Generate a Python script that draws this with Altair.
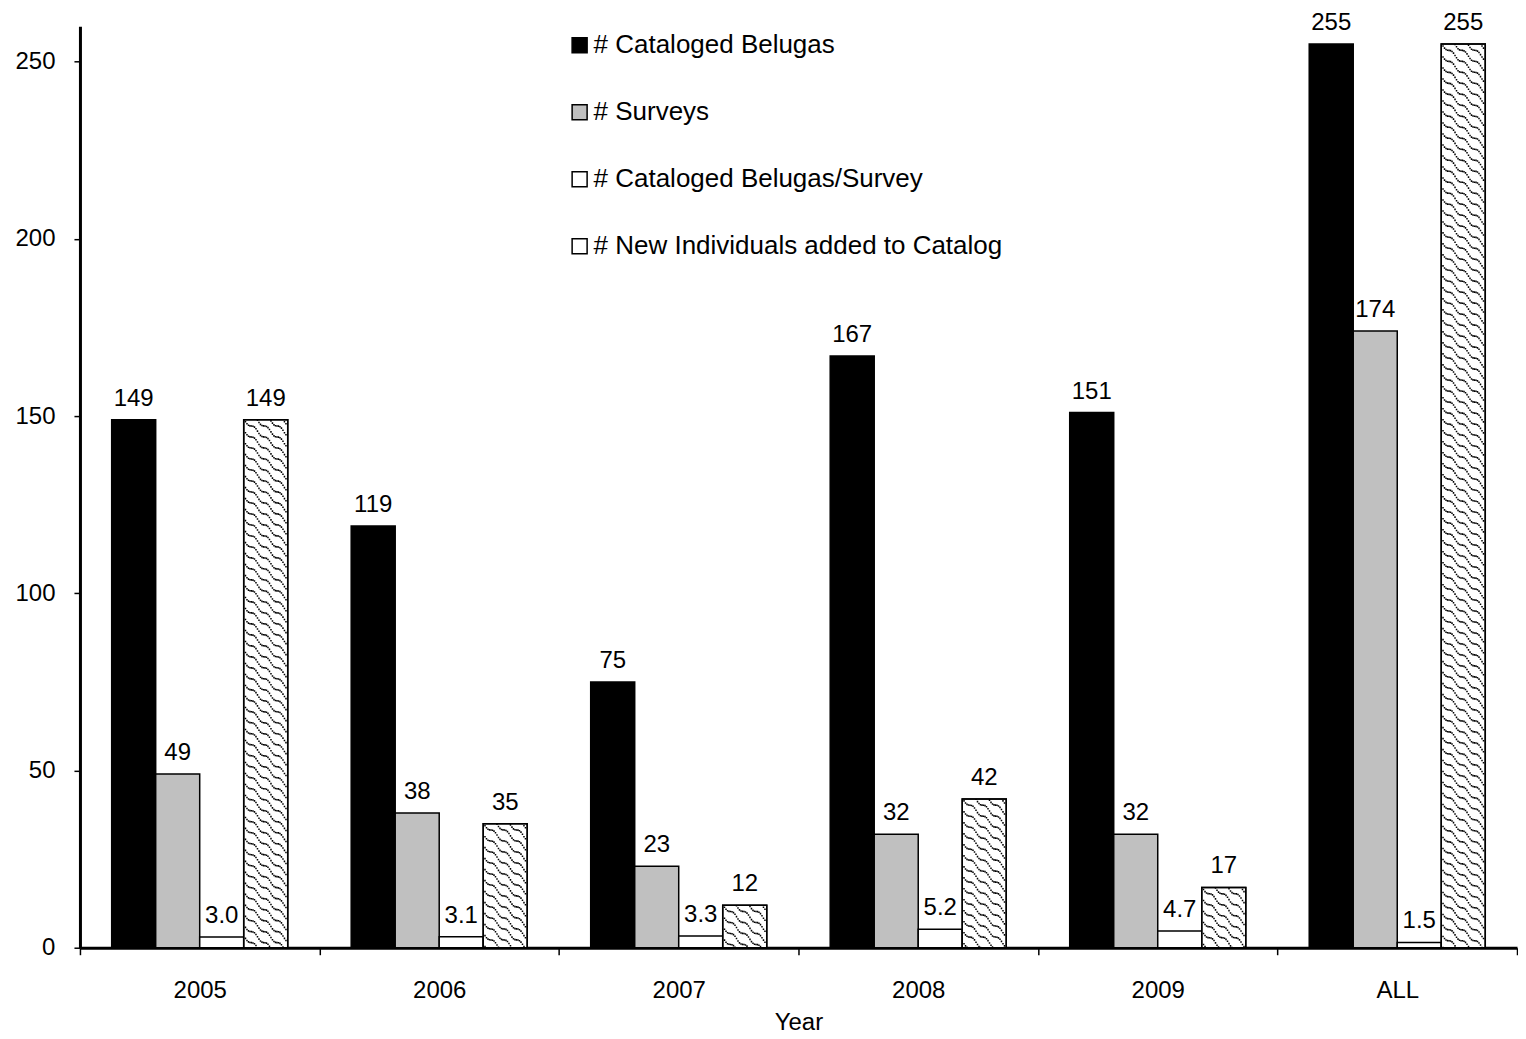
import math
import altair as alt
import pandas as pd

years = ["2005", "2006", "2007", "2008", "2009", "ALL"]
cataloged = [149, 119, 75, 167, 151, 255]
surveys = [49, 38, 23, 32, 32, 174]
per_survey = [3.0, 3.1, 3.3, 5.2, 4.7, 1.5]
new_individuals = [149, 35, 12, 42, 17, 255]
series = ["# Cataloged Belugas", "# Surveys", "# Cataloged Belugas/Survey",
          "# New Individuals added to Catalog"]
label_formats = ["{:.0f}", "{:.0f}", "{:.1f}", "{:.0f}"]
colors = ["#000000", "#c0c0c0", "#ffffff", "#ffffff"]
y_ticks = [0, 50, 100, 150, 200, 250]

rows = []
for i, yr in enumerate(years):
    for s, vals, fmt in zip(series, [cataloged, surveys, per_survey, new_individuals], label_formats):
        rows.append({"year": yr, "series": s, "value": vals[i], "label": fmt.format(vals[i])})
df = pd.DataFrame(rows)

FONT = "Liberation Sans"
W, H = 1438, 922
STEP = W / len(years)
OFF_PAD = 0.721
BAR_W = STEP / (4 + 2 * OFF_PAD)
HATCH_CENTER = 1.5 * BAR_W

x_enc = alt.X(
    "year:N", sort=years,
    scale=alt.Scale(paddingInner=0, paddingOuter=0),
    axis=alt.Axis(title="Year", tickBand="extent", labelAngle=0, labelFontSize=24,
                  labelFont=FONT, labelColor="black", titleFont=FONT, titleFontSize=24,
                  titleFontWeight="normal", titleColor="black", tickSize=7, tickWidth=1.5,
                  tickColor="black", domainColor="black", domainWidth=3, labelPadding=24,
                  titlePadding=8, grid=False),
)
y_enc = alt.Y(
    "value:Q",
    scale=alt.Scale(domain=[0, 260], nice=False),
    axis=alt.Axis(title=None, values=y_ticks, labelFontSize=24, labelFont=FONT,
                  labelColor="black", tickSize=6, tickWidth=1.5, tickColor="black",
                  domainColor="black", domainWidth=3, labelPadding=19, grid=False,
                  minExtent=67, maxExtent=67),
)
xoff = alt.XOffset("series:N", sort=series,
                   scale=alt.Scale(paddingInner=0, paddingOuter=OFF_PAD))

base = alt.Chart(df)

bars = base.mark_bar(stroke="black", strokeWidth=1.5).encode(
    x=x_enc, xOffset=xoff, y=y_enc,
    color=alt.Color(
        "series:N", sort=series,
        scale=alt.Scale(domain=series, range=colors),
        legend=alt.Legend(title=None, orient="none", legendX=487, legendY=6,
                          symbolType="square", symbolSize=225, symbolStrokeColor="black",
                          symbolStrokeWidth=1.5, symbolOpacity=1, labelFontSize=26,
                          labelFont=FONT, labelColor="black", rowPadding=41,
                          labelOffset=1, padding=0, labelLimit=600),
    ),
)

# hatch texture for the "new individuals" bars, drawn as dashed columns
hatch_base = base.transform_filter(alt.datum.series == series[3])
layers = [bars]
CW = 1.5
N_COL = int(round((BAR_W - 2) / CW))
PERIOD = 11.0
CELL = 13.0
DASH = 1.6
for i in range(N_COL):
    xpos = (i + 0.5) * CW
    off = HATCH_CENTER + (i - (N_COL - 1) / 2) * CW
    phase = xpos * PERIOD / CELL + 1.6 * math.sin(2 * math.pi * xpos / CELL)
    dash_off = (PERIOD - phase % PERIOD) % PERIOD
    layers.append(
        hatch_base.mark_rule(color="black", strokeWidth=CW, strokeDash=[DASH, PERIOD - DASH],
                             strokeDashOffset=dash_off, xOffset=off).encode(
            x=x_enc, y=y_enc, y2=alt.datum(0))
    )

outline = hatch_base.mark_bar(fill=None, fillOpacity=0, stroke="black", strokeWidth=1.5).encode(
    x=x_enc, xOffset=xoff, y=y_enc)
layers.append(outline)

labels = base.mark_text(fontSize=24, font=FONT, color="black", baseline="alphabetic",
                        dy=-14).encode(x=x_enc, xOffset=xoff, y=y_enc, text="label:N")
layers.append(labels)

chart = alt.layer(*layers).properties(
    width=W, height=H,
    padding={"left": 5, "top": 2, "right": 0, "bottom": 0},
).configure_view(stroke=None)

chart.save("out.html", embed_options={"renderer": "svg", "actions": False})
